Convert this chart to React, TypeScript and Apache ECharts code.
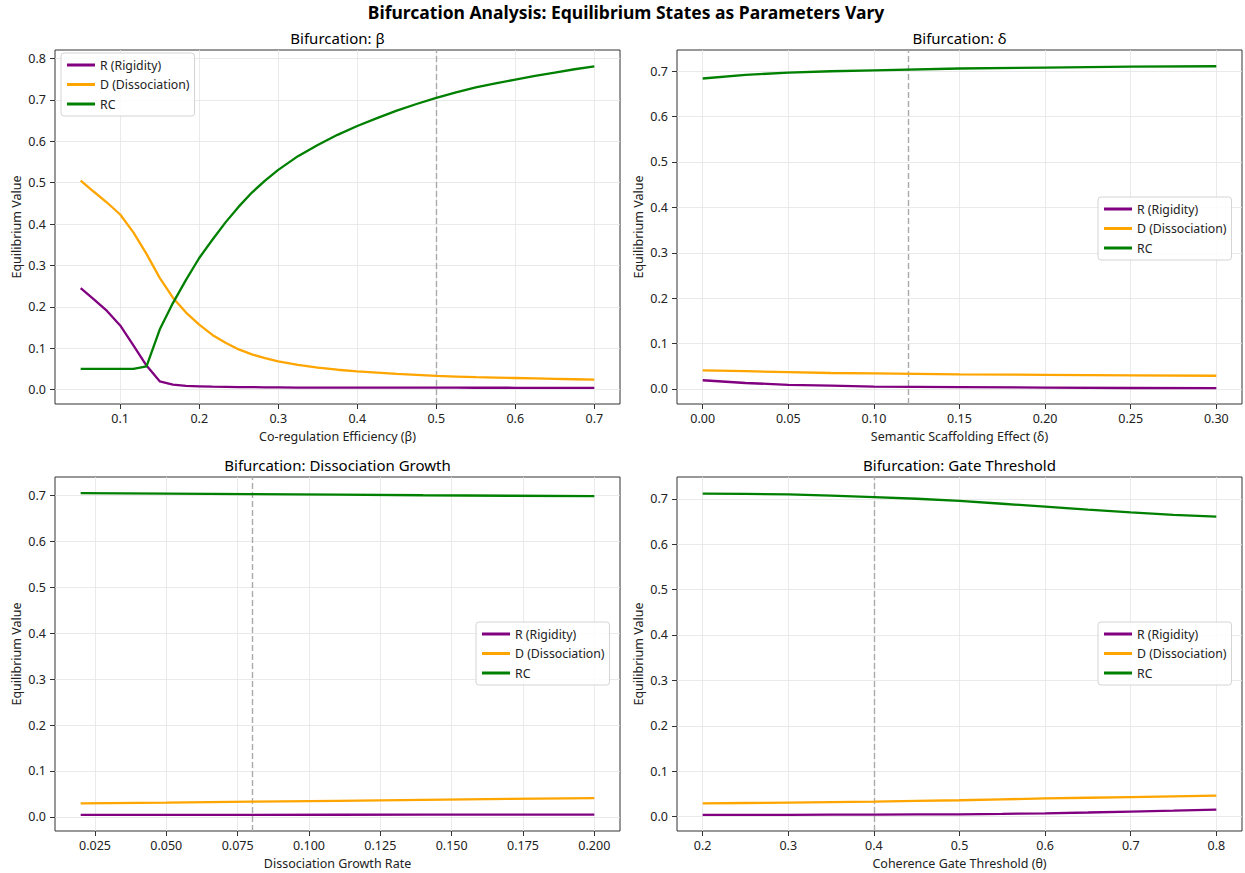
import React, { useEffect, useRef } from "react";
import * as echarts from "echarts";

// ---------- Data ----------
const seriesNames = ["R (Rigidity)", "D (Dissociation)", "RC"];
const seriesColors = ["#800080", "#FFA500", "#008000"];

// Panel 1: Co-regulation Efficiency (beta)
const betaX = [0.05, 0.0667, 0.0833, 0.1, 0.1167, 0.1333, 0.15, 0.1667, 0.1833, 0.2, 0.2167, 0.2333, 0.25, 0.2667, 0.2833, 0.3, 0.325, 0.35, 0.375, 0.4, 0.425, 0.45, 0.475, 0.5, 0.525, 0.55, 0.575, 0.6, 0.625, 0.65, 0.675, 0.7];
const betaR = [0.245, 0.218, 0.19, 0.155, 0.107, 0.058, 0.02, 0.012, 0.009, 0.008, 0.007, 0.0065, 0.006, 0.006, 0.0055, 0.0055, 0.005, 0.005, 0.005, 0.005, 0.0049, 0.0048, 0.0047, 0.0046, 0.00455, 0.0045, 0.00445, 0.0044, 0.0043, 0.0042, 0.0041, 0.004];
const betaD = [0.505, 0.478, 0.452, 0.423, 0.38, 0.328, 0.27, 0.222, 0.186, 0.157, 0.132, 0.113, 0.097, 0.085, 0.076, 0.068, 0.06, 0.053, 0.048, 0.044, 0.041, 0.038, 0.0355, 0.033, 0.0315, 0.03, 0.029, 0.028, 0.027, 0.026, 0.025, 0.024];
const betaRC = [0.05, 0.05, 0.05, 0.05, 0.05, 0.056, 0.145, 0.209, 0.265, 0.318, 0.362, 0.404, 0.442, 0.476, 0.505, 0.531, 0.564, 0.591, 0.6155, 0.637, 0.656, 0.674, 0.69, 0.705, 0.718, 0.73, 0.74, 0.749, 0.758, 0.766, 0.774, 0.781];

// Panel 2: Semantic Scaffolding Effect (delta)
const deltaX = [0, 0.025, 0.05, 0.075, 0.1, 0.15, 0.2, 0.25, 0.3];
const deltaR = [0.019, 0.013, 0.009, 0.007, 0.005, 0.004, 0.003, 0.002, 0.0015];
const deltaD = [0.041, 0.039, 0.037, 0.035, 0.034, 0.032, 0.031, 0.03, 0.029];
const deltaRC = [0.684, 0.692, 0.697, 0.7, 0.702, 0.706, 0.708, 0.71, 0.711];

// Panel 3: Dissociation Growth Rate
const growthX = [0.02, 0.05, 0.08, 0.11, 0.14, 0.17, 0.2];
const growthR = [0.0043, 0.0044, 0.0045, 0.0046, 0.0047, 0.0048, 0.005];
const growthD = [0.0295, 0.031, 0.033, 0.035, 0.037, 0.039, 0.041];
const growthRC = [0.705, 0.704, 0.703, 0.702, 0.7005, 0.6995, 0.6985];

// Panel 4: Coherence Gate Threshold (theta)
const gateX = [0.2, 0.25, 0.3, 0.35, 0.4, 0.45, 0.5, 0.55, 0.6, 0.65, 0.7, 0.75, 0.8];
const gateR = [0.0037, 0.0038, 0.004, 0.0042, 0.0044, 0.0047, 0.005, 0.006, 0.0073, 0.009, 0.011, 0.013, 0.0154];
const gateD = [0.029, 0.03, 0.031, 0.032, 0.033, 0.0345, 0.036, 0.038, 0.04, 0.0415, 0.043, 0.0445, 0.046];
const gateRC = [0.7115, 0.7108, 0.7095, 0.707, 0.7035, 0.7, 0.6955, 0.689, 0.6825, 0.676, 0.67, 0.6645, 0.6605];

// Axis tick labels
const xTicks1 = [0.1, 0.2, 0.3, 0.4, 0.5, 0.6, 0.7];
const xTicks2 = [0, 0.05, 0.1, 0.15, 0.2, 0.25, 0.3];
const xTicks3 = [0.025, 0.05, 0.075, 0.1, 0.125, 0.15, 0.175, 0.2];
const xTicks4 = [0.2, 0.3, 0.4, 0.5, 0.6, 0.7, 0.8];
const yTicks1 = [0, 0.1, 0.2, 0.3, 0.4, 0.5, 0.6, 0.7, 0.8];
const yTicks234 = [0, 0.1, 0.2, 0.3, 0.4, 0.5, 0.6, 0.7];

const panelTitles = ["Bifurcation: β", "Bifurcation: δ", "Bifurcation: Dissociation Growth", "Bifurcation: Gate Threshold"];
const xNames = ["Co-regulation Efficiency (β)", "Semantic Scaffolding Effect (δ)", "Dissociation Growth Rate", "Coherence Gate Threshold (θ)"];
const refLines = [0.5, 0.12, 0.08, 0.4];
const mainTitle = "Bifurcation Analysis: Equilibrium States as Parameters Vary";

const FONT = "'Noto Sans', 'DejaVu Sans', sans-serif";

export default function App() {
  const ref = useRef<HTMLDivElement>(null);

  useEffect(() => {
    if (!ref.current) return;
    const chart = echarts.init(ref.current, undefined, { renderer: "svg" });

    const panels = [
      { x: betaX, ys: [betaR, betaD, betaRC], xMin: 0.0175, xMax: 0.7325, yMin: -0.0348, yMax: 0.8205, xTicks: xTicks1, yTicks: yTicks1, dec: 1 },
      { x: deltaX, ys: [deltaR, deltaD, deltaRC], xMin: -0.015, xMax: 0.315, yMin: -0.0333, yMax: 0.7468, xTicks: xTicks2, yTicks: yTicks234, dec: 2 },
      { x: growthX, ys: [growthR, growthD, growthRC], xMin: 0.011, xMax: 0.209, yMin: -0.0308, yMax: 0.7403, xTicks: xTicks3, yTicks: yTicks234, dec: 3 },
      { x: gateX, ys: [gateR, gateD, gateRC], xMin: 0.17, xMax: 0.83, yMin: -0.0317, yMax: 0.7479, xTicks: xTicks4, yTicks: yTicks234, dec: 1 },
    ];

    const gridPos = [
      { left: 55, top: 50 },
      { left: 677, top: 50 },
      { left: 55, top: 477 },
      { left: 677, top: 477 },
    ];
    const GW = 565;
    const GH = 354;
    const legendPos = [
      { left: 61, top: 53 },
      { left: 1098, top: 197 },
      { left: 476, top: 622 },
      { left: 1098, top: 622 },
    ];

    const grid = gridPos.map((g) => ({
      left: g.left,
      top: g.top,
      width: GW,
      height: GH,
      show: true,
      borderColor: "#333",
      borderWidth: 1,
      backgroundColor: "#fff",
      containLabel: false,
    }));

    const splitLine = { show: true, lineStyle: { color: "#e5e5e5", width: 0.8 } };
    const axisLabelBase = { color: "#222", fontSize: 12.5, fontFamily: FONT };

    const xAxis = panels.map((p, i) => ({
      type: "value",
      gridIndex: i,
      min: p.xMin,
      max: p.xMax,
      axisLine: { show: false, onZero: false },
      axisTick: { show: true, length: 5, inside: false, customValues: p.xTicks, lineStyle: { color: "#333" } },
      axisLabel: { ...axisLabelBase, margin: 8, customValues: p.xTicks, formatter: (v: number) => v.toFixed(p.dec) },
      splitLine,
      name: xNames[i],
      nameLocation: "middle",
      nameGap: 26,
      nameTextStyle: { color: "#222", fontSize: 12.5, fontFamily: FONT },
    }));

    const yAxis = panels.map((p, i) => ({
      type: "value",
      gridIndex: i,
      min: p.yMin,
      max: p.yMax,
      axisLine: { show: false, onZero: false },
      axisTick: { show: true, length: 5, inside: false, customValues: p.yTicks, lineStyle: { color: "#333" } },
      axisLabel: { ...axisLabelBase, margin: 9, customValues: p.yTicks, formatter: (v: number) => v.toFixed(1) },
      splitLine,
      name: "Equilibrium Value",
      nameLocation: "middle",
      nameGap: 32,
      nameRotate: 90,
      nameTextStyle: { color: "#222", fontSize: 12.5, fontFamily: FONT },
    }));

    const series: any[] = [];
    panels.forEach((p, i) => {
      p.ys.forEach((vals, k) => {
        const s: any = {
          type: "line",
          name: seriesNames[k],
          xAxisIndex: i,
          yAxisIndex: i,
          data: p.x.map((xv, j) => [xv, vals[j]]),
          symbol: "none",
          showSymbol: false,
          lineStyle: { color: seriesColors[k], width: 2.3 },
          itemStyle: { color: seriesColors[k] },
          z: 3,
        };
        if (k === 2) {
          s.markLine = {
            silent: true,
            symbol: ["none", "none"],
            label: { show: false },
            lineStyle: { color: "#aaaaaa", type: [6, 3], width: 1.4 },
            data: [{ xAxis: refLines[i] }],
            z: 2,
          };
        }
        series.push(s);
      });
    });

    const legend = legendPos.map((lp) => ({
      data: seriesNames,
      orient: "vertical",
      left: lp.left,
      top: lp.top,
      icon: "rect",
      itemWidth: 28,
      itemHeight: 3,
      itemGap: 5.5,
      itemTextGap: 9,
      padding: [5, 5, 5, 6],
      backgroundColor: "rgba(255,255,255,0.85)",
      borderColor: "#d4d4d4",
      borderWidth: 1,
      borderRadius: 3,
      textStyle: { color: "#222", fontSize: 12.3, lineHeight: 14, fontFamily: FONT },
      selectedMode: false,
    }));

    const titleCenters = [
      { x: 55 + GW / 2, y: 38 },
      { x: 677 + GW / 2, y: 38 },
      { x: 55 + GW / 2, y: 465 },
      { x: 677 + GW / 2, y: 465 },
    ];

    const graphic: any[] = [
      {
        type: "text",
        x: 626,
        y: 11.5,
        style: {
          text: mainTitle,
          fill: "#000",
          font: `bold 17.5px ${FONT}`,
          align: "center",
          verticalAlign: "middle",
        },
      },
      ...titleCenters.map((c, i) => ({
        type: "text",
        x: c.x,
        y: c.y,
        style: {
          text: panelTitles[i],
          fill: "#000",
          font: `15px ${FONT}`,
          align: "center",
          verticalAlign: "middle",
        },
      })),
    ];

    chart.setOption({
      animation: false,
      backgroundColor: "#fff",
      textStyle: { fontFamily: FONT },
      grid,
      xAxis,
      yAxis,
      legend,
      series,
      graphic,
    } as any);

    return () => chart.dispose();
  }, []);

  return (
    <div
      ref={ref}
      style={{ position: "absolute", left: 0, top: 0, width: 1245, height: 873, background: "#fff" }}
    />
  );
}
